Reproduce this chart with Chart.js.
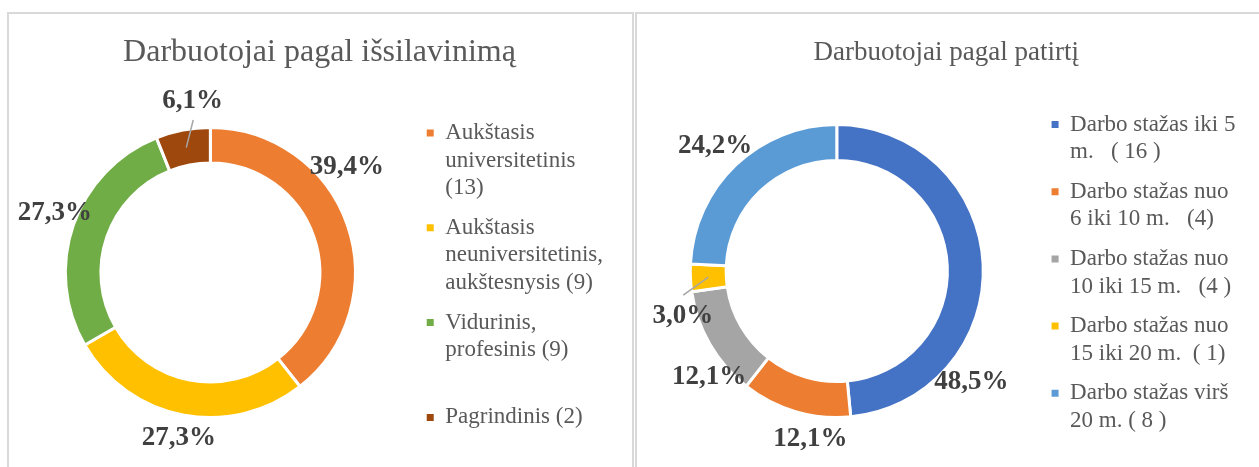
<!DOCTYPE html>
<html>
<head>
<meta charset="utf-8">
<script src="https://cdn.jsdelivr.net/npm/chart.js@4/dist/chart.umd.min.js"></script>
<style>
  body { margin: 0; background: #fff; overflow: hidden; }
  .panel { position: absolute; top: 12px; height: 520px; box-sizing: border-box; border: 2px solid #d9d9d9; }
  canvas { position: absolute; }
</style>
</head>
<body>
<div class="panel" style="left:7px; width:627px;"></div>
<div class="panel" style="left:635px; width:700px;"></div>
<canvas id="eduChart" width="626" height="453" style="left:6px; top:14px;"></canvas>
<canvas id="expChart" width="625" height="453" style="left:634px; top:14px;"></canvas>
<script>
// data
const eduLabels = [
  ['Aukštasis', 'universitetinis', '(13)'],
  ['Aukštasis', 'neuniversitetinis,', 'aukštesnysis (9)'],
  ['Vidurinis,', 'profesinis (9)', ''],
  ['Pagrindinis (2)']
];
const eduValues = [13, 9, 9, 2];
const eduColors = ['#ED7D31', '#FFC000', '#70AD47', '#9E480E'];

const expLabels = [
  ['Darbo stažas iki 5', 'm.   ( 16 )'],
  ['Darbo stažas nuo', '6 iki 10 m.   (4)'],
  ['Darbo stažas nuo', '10 iki 15 m.   (4 )'],
  ['Darbo stažas nuo', '15 iki 20 m.  ( 1)'],
  ['Darbo stažas virš', '20 m. ( 8 )']
];
const expValues = [16, 4, 4, 1, 8];
const expColors = ['#4472C4', '#ED7D31', '#A5A5A5', '#FFC000', '#5B9BD5'];

const SERIF = '"Liberation Serif", "Times New Roman", serif';

// percentage labels placed around the ring, with optional leader line
const pctLabels = {
  id: 'pctLabels',
  afterDatasetsDraw(chart, args, opts) {
    const ctx = chart.ctx;
    const meta = chart.getDatasetMeta(0);
    const data = chart.data.datasets[0].data;
    const total = data.reduce((a, b) => a + b, 0);
    const rad = Math.PI / 180;
    ctx.save();
    meta.data.forEach((arc, i) => {
      const p = arc.getProps(['x', 'y', 'startAngle', 'endAngle', 'innerRadius', 'outerRadius'], true);
      const mid = (p.startAngle + p.endAngle) / 2;
      const ld = opts.leader[i];
      if (ld) {
        const r0 = (p.innerRadius + p.outerRadius) / 2;
        const a1 = mid + ld.nudge * rad;
        ctx.strokeStyle = '#A6A6A6';
        ctx.lineWidth = 1.5;
        ctx.beginPath();
        ctx.moveTo(p.x + Math.cos(mid) * r0, p.y + Math.sin(mid) * r0);
        ctx.lineTo(p.x + Math.cos(a1) * ld.dist, p.y + Math.sin(a1) * ld.dist);
        ctx.stroke();
      }
      const a = mid + opts.nudge[i] * rad;
      const d = opts.dist[i];
      const txt = (data[i] / total * 100).toFixed(1).replace('.', ',') + '%';
      ctx.font = 'bold 27px ' + SERIF;
      ctx.fillStyle = '#404040';
      ctx.textAlign = 'center';
      ctx.textBaseline = 'middle';
      ctx.fillText(txt, p.x + Math.cos(a) * d, p.y + Math.sin(a) * d);
    });
    ctx.restore();
  }
};

// small shifts of the title and legend boxes after layout
const nudge = {
  id: 'nudge',
  afterLayout(chart, args, opts) {
    const t = chart.titleBlock, l = chart.legend;
    t.left += opts.titleDx; t.right += opts.titleDx;
    l.top += opts.legendDy; l.bottom += opts.legendDy;
  }
};

function legendItems(chart) {
  const items = Chart.overrides.doughnut.plugins.legend.labels.generateLabels(chart);
  items.forEach(it => { it.lineWidth = 0; });
  return items;
}

function makeChart(id, labels, values, colors, title, titleOpts, pad, radius, labelOpts, shift) {
  return new Chart(document.getElementById(id), {
    type: 'doughnut',
    data: {
      labels: labels,
      datasets: [{
        data: values,
        backgroundColor: colors,
        borderColor: '#ffffff',
        borderWidth: 3
      }]
    },
    options: {
      responsive: false,
      animation: false,
      radius: radius,
      cutout: '75.5%',
      layout: { padding: pad },
      plugins: {
        tooltip: { enabled: false },
        title: {
          display: true,
          text: title,
          color: '#595959',
          font: { family: SERIF, size: titleOpts.size, weight: 'normal' },
          padding: titleOpts.padding
        },
        legend: {
          position: 'right',
          align: 'center',
          fullSize: false,
          labels: {
            boxWidth: 7,
            boxHeight: 7,
            padding: 12,
            color: '#595959',
            font: { family: SERIF, size: 23, lineHeight: 1.2 },
            generateLabels: legendItems
          }
        },
        pctLabels: labelOpts,
        nudge: shift
      }
    },
    plugins: [pctLabels, nudge]
  });
}

makeChart('eduChart', eduLabels, eduValues, eduColors, 'Darbuotojai pagal išsilavinimą',
  { size: 32, padding: { top: 19, bottom: 23.6 } },
  { top: 0, left: 0, right: 19, bottom: 17 }, 145,
  { dist: [172.8, 168.5, 166.5, 172.4], nudge: [-18.7, -0.1, 1.9, 5],
    leader: [null, null, null, { nudge: 4.5, dist: 153.5 }] },
  { titleDx: 10, legendDy: 5 });

makeChart('expChart', expLabels, expValues, expColors, 'Darbuotojai pagal patirtį',
  { size: 27, padding: { top: 22.8, bottom: 25.8 } },
  { top: 0, left: 0, right: 13.5, bottom: 20 }, 146.5,
  { dist: [174.4, 170.1, 165.8, 160.4, 174.3], nudge: [42.2, -7.4, -9.7, -13.6, -0.6],
    leader: [null, null, null, { nudge: -6.2, dist: 155.4 }, null] },
  { titleDx: 6.5, legendDy: 4 });
</script>
</body>
</html>
